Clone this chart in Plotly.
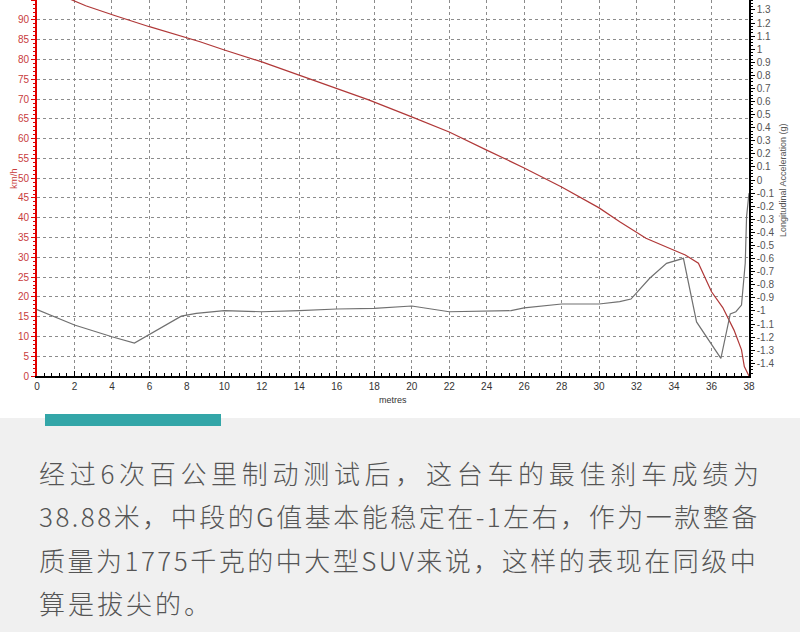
import plotly.graph_objects as go

# speed trace (distance in metres, speed in km/h)
dist_speed = [0, 1.9, 2.6, 4.1, 6.0, 8.7, 10.0, 12.0, 14.0, 16.0, 17.7, 20.0,
              22.0, 24.0, 26.0, 28.0, 30.0, 31.1, 32.5, 34.0, 34.6, 35.3,
              36.0, 36.6, 37.2, 37.6, 37.75, 38.0]
speed_kmh = [98.8, 95.0, 93.6, 91.2, 88.3, 84.5, 82.4, 79.4, 76.1, 72.8, 69.8,
             65.5, 61.7, 57.1, 52.6, 47.8, 42.5, 39.0, 34.8, 31.8, 30.6, 28.5,
             21.3, 17.3, 11.6, 6.6, 2.4, 0.0]

# longitudinal acceleration trace (g)
dist_accel = [0, 2.0, 4.0, 5.2, 7.7, 8.5, 10.0, 12.0, 14.0, 16.0, 18.0, 20.0,
              22.0, 24.0, 25.3, 26.0, 28.0, 30.0, 31.1, 31.7, 32.7, 33.6,
              34.5, 35.2, 36.0, 36.5, 37.0, 37.3, 37.6, 37.8, 37.87, 38.0]
accel_g = [-0.99, -1.107, -1.197, -1.245, -1.04, -1.018, -0.998, -1.006,
           -0.998, -0.985, -0.98, -0.962, -1.006, -1.0, -0.998, -0.977, -0.947,
           -0.947, -0.929, -0.909, -0.75, -0.636, -0.598, -1.084, -1.26,
           -1.362, -1.023, -1.006, -0.955, -0.634, -0.28, -0.10]

# tick labels
speed_ticks = list(range(0, 100, 5))
dist_ticks = list(range(0, 40, 2))
accel_ticks = [k / 10 for k in range(-14, 14)]
accel_labels = [f"{v:g}" for v in accel_ticks]

# paragraph under the chart
para_lines = [
    "经过6次百公里制动测试后，这台车的最佳刹车成绩为",
    "38.88米，中段的G值基本能稳定在-1左右，作为一款整备",
    "质量为1775千克的中大型SUV来说，这样的表现在同级中",
    "算是拔尖的。",
]
para_spacing = [4.7, 2.5, 2.5, 3.0]

# plot area in pixels (800 x 632 page)
L, R, T, B = 37, 749, 0, 376


def px(x):
    return (x - L) / (R - L)


def py(y):
    return (B - y) / (B - T)


tick_font = dict(family="Liberation Sans, Arial", size=10)

trace1 = go.Scatter(x=dist_speed, y=speed_kmh, mode="lines",
                    line=dict(color="#b03838", width=1.2), yaxis="y")
trace2 = go.Scatter(x=dist_accel, y=accel_g, mode="lines",
                    line=dict(color="#707070", width=1.2), yaxis="y2")

layout = go.Layout(
    width=800, height=632,
    margin=dict(l=L, r=800 - R, t=T, b=632 - B),
    paper_bgcolor="white", plot_bgcolor="white",
    showlegend=False,
    xaxis=dict(range=[0, 38], tickvals=dist_ticks, ticks="inside", ticklen=5,
               tickcolor="black", showline=True, linecolor="black",
               linewidth=2, zeroline=False,
               showgrid=True, gridcolor="#8c8c8c", griddash="3px,3px",
               gridwidth=1,
               minor=dict(dtick=0.4, ticks="inside", ticklen=3,
                          tickcolor="black", showgrid=False),
               tickfont=dict(tick_font, color="#333333")),
    yaxis=dict(range=[0, 95.05], tickvals=speed_ticks, ticks="outside",
               ticklen=4, tickcolor="#e00000", showline=True,
               linecolor="#e00000", linewidth=2, zeroline=False,
               showgrid=True, gridcolor="#8c8c8c", griddash="3px,3px",
               gridwidth=1,
               minor=dict(dtick=1, ticks="outside", ticklen=2,
                          tickcolor="#e00000", showgrid=False),
               tickfont=dict(tick_font, color="#c83c3c")),
    yaxis2=dict(range=[-1.497, 1.376], overlaying="y", side="right",
                tickvals=accel_ticks, ticktext=accel_labels,
                ticks="outside", ticklen=4, tickcolor="black",
                showline=True, linecolor="black", linewidth=1.5,
                zeroline=False, showgrid=False,
                minor=dict(dtick=0.025, ticks="outside", ticklen=2,
                           tickcolor="black", showgrid=False),
                tickfont=dict(tick_font, color="#555555")),
    shapes=[
        dict(type="rect", xref="paper", yref="paper", layer="below",
             x0=px(0), x1=px(800), y0=py(418), y1=py(632),
             fillcolor="#f0f0f0", line=dict(width=0)),
        dict(type="rect", xref="paper", yref="paper", layer="above",
             x0=px(45), x1=px(221), y0=py(414), y1=py(426),
             fillcolor="#33a6a8", line=dict(width=0)),
    ],
)

annotations = [
    dict(text="km/h", x=px(13), y=py(179), textangle=-90,
         xanchor="center", yanchor="middle",
         font=dict(family="Liberation Sans, Arial", size=9.5, color="#c83c3c")),
    dict(text="metres", x=px(393), y=py(400),
         xanchor="center", yanchor="middle",
         font=dict(family="Liberation Sans, Arial", size=9, color="#333333")),
    dict(text="Longitudinal Acceleration (g)", x=px(783), y=py(180),
         textangle=-90, xanchor="center", yanchor="middle",
         font=dict(family="Liberation Sans, Arial", size=9, color="#555555")),
]
line_y = [472, 515, 559, 602]
for txt, sp, yy in zip(para_lines, para_spacing, line_y):
    annotations.append(dict(
        text=f'<span style="letter-spacing:{sp}px">{txt}</span>',
        x=px(37), y=py(yy), xanchor="left", yanchor="middle",
        font=dict(family="Noto Sans CJK SC", size=26, color="#555555",
                  weight=300)))
for a in annotations:
    a.update(xref="paper", yref="paper", showarrow=False)
layout.annotations = annotations

fig = go.Figure(data=[trace1, trace2], layout=layout)
# drop the default 8px page margin so the figure sits at the window origin
fig.write_html("out.html", config={"displayModeBar": False},
               post_script="document.body.style.margin='0';")
